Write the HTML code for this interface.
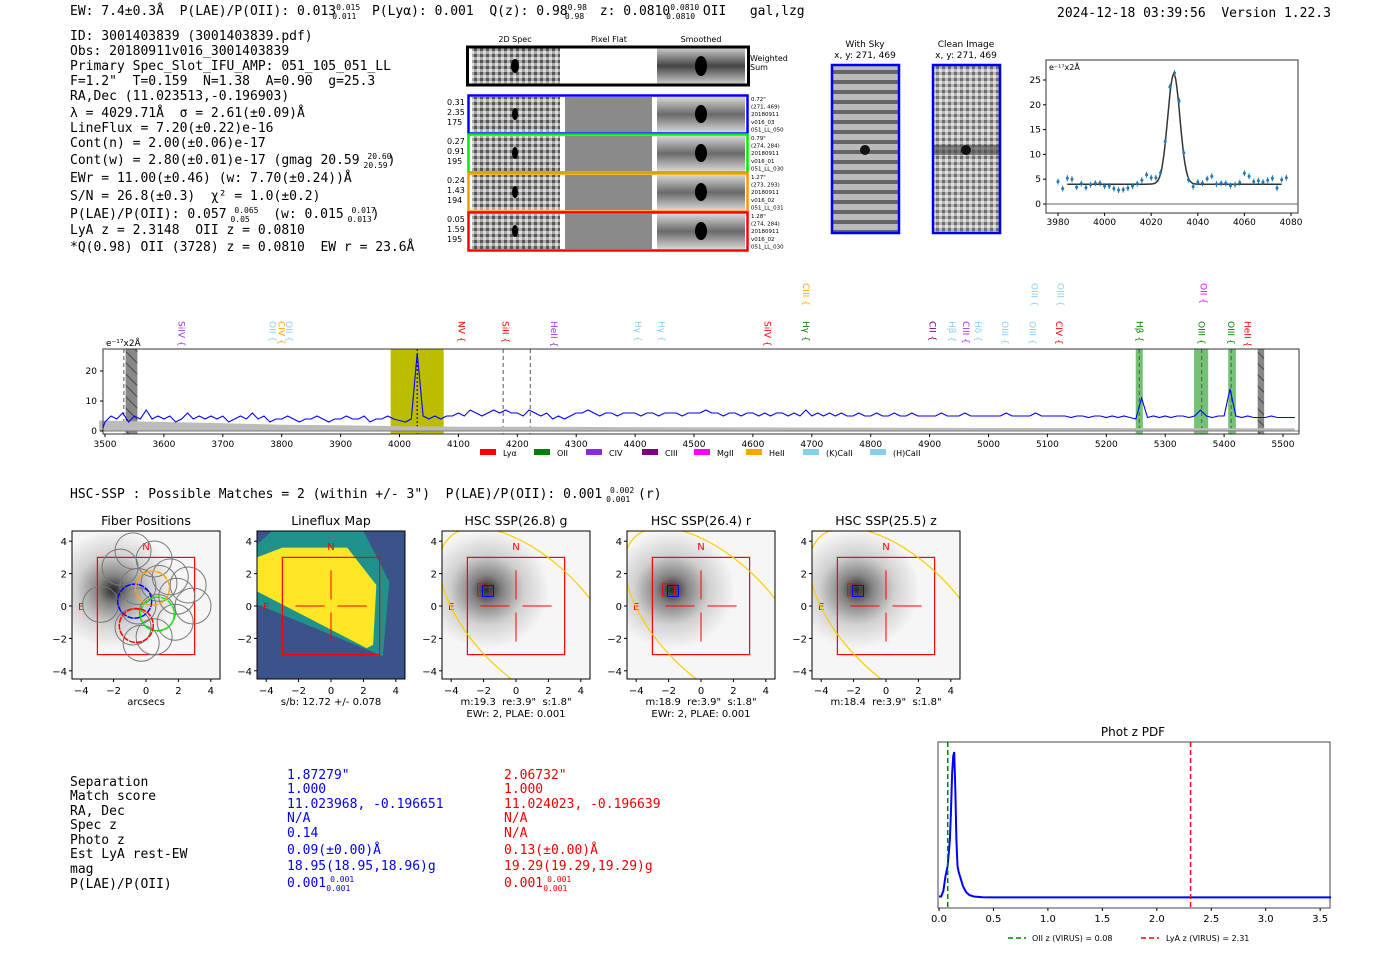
<!DOCTYPE html>
<html><head><meta charset="utf-8">
<style>
html,body{margin:0;padding:0;background:#fff;}
svg{display:block;}
text{white-space:pre;}
.m{font-family:"DejaVu Sans Mono","Liberation Mono",monospace;font-size:13px;fill:#000;}
.s{font-family:"DejaVu Sans","Liberation Sans",sans-serif;}
</style></head>
<body>
<svg id="fig" width="1400" height="953" viewBox="0 0 1400 953" xmlns="http://www.w3.org/2000/svg">
<defs>
<radialGradient id="gal" cx="0.5" cy="0.5" r="0.5"><stop offset="0" stop-color="#111"/><stop offset="0.25" stop-color="#777"/><stop offset="0.6" stop-color="#ccc"/><stop offset="1" stop-color="#f4f4f4"/></radialGradient>
<pattern id="noise" width="6" height="6" patternUnits="userSpaceOnUse"><rect width="6" height="6" fill="#aaa"/><rect width="3" height="3" fill="#555"/><rect x="3" y="3" width="3" height="3" fill="#ddd"/></pattern>
<pattern id="stripes" width="8" height="10" patternUnits="userSpaceOnUse"><rect width="8" height="10" fill="#bbb"/><rect width="8" height="4" fill="#666"/></pattern>
<linearGradient id="smooth" x1="0" x2="0" y1="0" y2="1"><stop offset="0" stop-color="#ccc"/><stop offset="0.5" stop-color="#444"/><stop offset="1" stop-color="#ccc"/></linearGradient>
<pattern id="hatch" width="8" height="8" patternUnits="userSpaceOnUse" patternTransform="rotate(-45)"><rect width="8" height="8" fill="#888"/><line x1="0" y1="0" x2="0" y2="8" stroke="#333" stroke-width="1.5"/></pattern>
</defs>

<text class="m" x="70" y="15">EW: 7.4±0.3Å  P(LAE)/P(OII): 0.013<tspan font-size="8" dy="-5">0.015</tspan><tspan font-size="8" dx="-28" dy="9">0.011</tspan><tspan dy="-4">  P(Lyα): 0.001  Q(z): 0.98</tspan><tspan font-size="8" dy="-5">0.98</tspan><tspan font-size="8" dx="-22" dy="9">0.98</tspan><tspan dy="-4">  z: 0.0810</tspan><tspan font-size="8" dy="-5">0.0810</tspan><tspan font-size="8" dx="-33" dy="9">0.0810</tspan><tspan dy="-4"> OII   gal,lzg</tspan></text>
<text class="m" x="1057" y="17">2024-12-18 03:39:56  Version 1.22.3</text>

<g>
<text class="m" x="70" y="40">ID: 3001403839 (3001403839.pdf)</text>
<text class="m" x="70" y="55">Obs: 20180911v016_3001403839</text>
<text class="m" x="70" y="70">Primary Spec_Slot_IFU_AMP: 051_105_051_LL</text>
<text class="m" x="70" y="85">F=1.2"  T=0.159  N=1.38  A=0.90  g=25.3</text>
<text class="m" x="70" y="100">RA,Dec (11.023513,-0.196903)</text>
<text class="m" x="70" y="117">λ = 4029.71Å  σ = 2.61(±0.09)Å</text>
<text class="m" x="70" y="132">LineFlux = 7.20(±0.22)e-16</text>
<text class="m" x="70" y="147">Cont(n) = 2.00(±0.06)e-17</text>
<text class="m" x="70" y="164">Cont(w) = 2.80(±0.01)e-17 (gmag 20.59 <tspan font-size="8" dy="-5">20.60</tspan><tspan font-size="8" dx="-28" dy="9">20.59</tspan><tspan dy="-4">)</tspan></text>
<text class="m" x="70" y="182">EWr = 11.00(±0.46) (w: 7.70(±0.24))Å</text>
<text class="m" x="70" y="200">S/N = 26.8(±0.3)  χ² = 1.0(±0.2)</text>
<text class="m" x="70" y="218">P(LAE)/P(OII): 0.057 <tspan font-size="8" dy="-5">0.065</tspan><tspan font-size="8" dx="-28" dy="9">0.05</tspan><tspan dy="-4">   (w: 0.015 </tspan><tspan font-size="8" dy="-5">0.017</tspan><tspan font-size="8" dx="-28" dy="9">0.013</tspan><tspan dy="-4">)</tspan></text>
<text class="m" x="70" y="234">LyA z = 2.3148  OII z = 0.0810</text>
<text class="m" x="70" y="251">*Q(0.98) OII (3728) z = 0.0810  EW r = 23.6Å</text>
</g>

<g class="s">
<text x="515" y="42" font-size="8" text-anchor="middle">2D Spec</text>
<text x="609" y="42" font-size="8" text-anchor="middle">Pixel Flat</text>
<text x="701" y="42" font-size="8" text-anchor="middle">Smoothed</text>
<g>
<rect x="472" y="48" width="88" height="36" fill="url(#noise)"/>
<rect x="657" y="48" width="88" height="36" fill="url(#smooth)"/>
<ellipse cx="515" cy="66" rx="4" ry="7" fill="#000"/><ellipse cx="701" cy="66" rx="6" ry="10" fill="#000"/>
<rect x="467.5" y="47" width="281" height="38" fill="none" stroke="#000" stroke-width="3"/>
<text x="750" y="61" font-size="8">Weighted</text><text x="750" y="70" font-size="8">Sum</text>
</g>
<g id="rows"></g>
</g>

<g class="s">
<text x="865" y="47" font-size="9" text-anchor="middle">With Sky</text>
<text x="865" y="58" font-size="9" text-anchor="middle">x, y: 271, 469</text>
<rect x="832" y="65" width="67" height="168" fill="url(#stripes)"/>
<circle cx="865" cy="150" r="5" fill="#111"/>
<rect x="832" y="65" width="67" height="168" fill="none" stroke="#0000ee" stroke-width="2.5"/>
<text x="966" y="47" font-size="9" text-anchor="middle">Clean Image</text>
<text x="966" y="58" font-size="9" text-anchor="middle">x, y: 271, 469</text>
<rect x="933" y="65" width="67" height="168" fill="url(#noise)" opacity="0.85"/>
<rect x="933" y="145" width="67" height="10" fill="#444" opacity="0.6"/>
<circle cx="966" cy="150" r="5" fill="#111"/>
<rect x="933" y="65" width="67" height="168" fill="none" stroke="#0000ee" stroke-width="2.5"/>
</g>

<g id="zoomplot" class="s"></g>
<g id="specplot" class="s"></g>

<text class="m" x="70" y="498">HSC-SSP : Possible Matches = 2 (within +/- 3")  P(LAE)/P(OII): 0.001 <tspan font-size="8" dy="-5">0.002</tspan><tspan font-size="8" dx="-28" dy="9">0.001</tspan><tspan dy="-4"> (r)</tspan></text>

<g id="cutouts" class="s"></g>

<g class="m">
<text x="70" y="786">Separation</text><text x="70" y="800">Match score</text><text x="70" y="815">RA, Dec</text><text x="70" y="829">Spec z</text><text x="70" y="844">Photo z</text><text x="70" y="858">Est LyA rest-EW</text><text x="70" y="873">mag</text><text x="70" y="888">P(LAE)/P(OII)</text>
<text x="287" y="779" style="fill:#0000ee">1.87279"</text><text x="287" y="793" style="fill:#0000ee">1.000</text><text x="287" y="808" style="fill:#0000ee">11.023968, -0.196651</text><text x="287" y="822" style="fill:#0000ee">N/A</text><text x="287" y="837" style="fill:#0000ee">0.14</text><text x="287" y="854" style="fill:#0000ee">0.09(±0.00)Å</text><text x="287" y="870" style="fill:#0000ee">18.95(18.95,18.96)g</text><text x="287" y="887" style="fill:#0000ee">0.001<tspan font-size="8" dx="4" dy="-5">0.001</tspan><tspan font-size="8" dx="-28" dy="9">0.001</tspan></text>
<text x="504" y="779" style="fill:#ee0000">2.06732"</text><text x="504" y="793" style="fill:#ee0000">1.000</text><text x="504" y="808" style="fill:#ee0000">11.024023, -0.196639</text><text x="504" y="822" style="fill:#ee0000">N/A</text><text x="504" y="837" style="fill:#ee0000">N/A</text><text x="504" y="854" style="fill:#ee0000">0.13(±0.00)Å</text><text x="504" y="870" style="fill:#ee0000">19.29(19.29,19.29)g</text><text x="504" y="887" style="fill:#ee0000">0.001<tspan font-size="8" dx="4" dy="-5">0.001</tspan><tspan font-size="8" dx="-28" dy="9">0.001</tspan></text>
</g>

<g id="pdfplot" class="s"></g>
</svg>

<script>
const zoomWave = [3980,3982,3984,3986,3988,3990,3992,3994,3996,3998,4000,4002,4004,4006,4008,4010,4012,4014,4016,4018,4020,4022,4024,4026,4028,4030,4032,4034,4036,4038,4040,4042,4044,4046,4048,4050,4052,4054,4056,4058,4060,4062,4064,4066,4068,4070,4072,4074,4076,4078];
const zoomFlux = [4.5,3.1,5.2,5.0,3.4,4.1,3.3,3.9,4.2,4.2,3.6,3.6,3.1,2.8,2.9,3.2,3.6,4.1,4.8,5.9,5.3,5.3,6.3,12.6,23.6,26.4,20.8,10.3,4.9,3.5,4.4,4.2,5.1,5.6,4.0,4.2,4.2,3.7,3.9,4.3,6.2,5.6,4.5,4.7,4.4,4.8,5.2,3.2,4.9,5.3];
const fitCenter = 4029.7, fitSigma = 2.61, fitAmp = 22.2, fitCont = 4.0;
const zoomYTicks = [0,5,10,15,20,25];
const zoomXTicks = [3980,4000,4020,4040,4060,4080];

const specStart = 3490, specStep = 10;
const specFlux = [1,3,5,4,6,3,5,4,7,4,5,
4,5,3,4,6,4,5,4,5,4, 5,3,4,5,4,6,4,5,3,4, 4,5,4,3,4,4,5,4,3,4, 4,5,4,4,5,3,4,4,5,4,
3.5,3,4,26,5,4,5,4,5,5, 6,5,7,6,5,6,7,6,7,6, 6,5,7,6,5,6,4,5,4,5, 6,6,7,6,5,6,6,5,6,6,
6,5,6,6,5,6,6,6,5,6, 6,6,7,6,6,5,6,6,5,6, 6,5,6,5,6,6,5,6,5,7, 5,6,5,6,5,6,5,5,6,5,
5,6,5,5,6,5,5,6,5,5, 5,5,6,5,5,5,6,5,5,5, 5,5,5,6,5,5,5,5,6,5, 5,5,5,5,4.5,5,5,4.5,5,5,
4.5,5,4.5,5,4.5,4,11,4.5,5,4.5, 5,4.5,5,5,4.5,5,7,5,4.5,5, 5,14,5,4.5,5,4.5,4.5,4.5,5,4.5,
4.5,4.5,4.5];
const skyWave = [3490,3600,3700,3800,3900,4000,4100,4200,4400,4600,4800,5000,5200,5400,5520];
const skyFlux = [3.5,3.0,2.6,2.1,1.9,1.6,1.4,1.4,1.3,1.2,1.1,1.0,1.0,0.9,0.9];
const specXTicks = [3500,3600,3700,3800,3900,4000,4100,4200,4300,4400,4500,4600,4700,4800,4900,5000,5100,5200,5300,5400,5500];
const specYTicks = [0,10,20];
const lineNames = ["SiIV","OII","CIV","OII","NV","SiII","HeII","Hγ","Hγ","SiIV","Hγ","CIII","CII","Hβ","CIII","Hδ","OIII","OIII","CIV","OIII","OIII","Hβ","OIII","OIII","OII","HeII"];
const lineWaves = [3630,3784,3800,3812,4105,4180,4262,4405,4445,4625,4690,4690,4905,4938,4962,4982,5028,5075,5120,5078,5122,5256,5362,5412,5365,5440];
const lineRow = [1,1,1,1,1,1,1,1,1,1,1,0,1,1,1,1,1,1,1,0,0,1,1,1,0,1];
const lineColors = ["#9933ee","#87cefa","#ffa500","#87cefa","#ff0000","#ff0000","#9933ee","#87cefa","#87cefa","#ff0000","#008000","#ffa500","#800080","#87cefa","#9933ee","#87cefa","#87cefa","#87cefa","#ff0000","#87cefa","#87cefa","#008000","#008000","#008000","#ff00ff","#ff0000"];
const legendNames = ["Lyα","OII","CIV","CIII","MgII","HeII","(K)CaII","(H)CaII"];
const legendColors = ["#ff0000","#008000","#8a2be2","#800080","#ff00ff","#ffa500","#87ceeb","#87ceeb"];

const pdfZ = [0,0.02,0.04,0.06,0.08,0.1,0.11,0.12,0.13,0.14,0.15,0.16,0.17,0.18,0.2,0.22,0.25,0.28,0.32,0.4,0.5,1,2,3,3.6];
const pdfP = [0.01,0.01,0.05,0.15,0.22,0.4,0.6,0.85,0.97,1.0,0.75,0.4,0.22,0.18,0.13,0.08,0.04,0.02,0.01,0.005,0.004,0.004,0.004,0.004,0.004];
const pdfXTicks = [0.0,0.5,1.0,1.5,2.0,2.5,3.0,3.5];
const oiiZ = 0.08, lyaZ = 2.31;

const rowNums = [["0.31","2.35","175"],["0.27","0.91","195"],["0.24","1.43","194"],["0.05","1.59","195"]];
const rowInfo = [["0.72\"","(271, 469)","20180911","v016_03","051_LL_050"],["0.79\"","(274, 284)","20180911","v016_01","051_LL_030"],["1.27\"","(273, 293)","20180911","v016_02","051_LL_031"],["1.28\"","(274, 284)","20180911","v016_02","051_LL_030"]];
const rowColors = ["#0000ff","#00ee00","#ff9900","#ff0000"];

const cutTitles = ["Fiber Positions","Lineflux Map","HSC SSP(26.8) g","HSC SSP(26.4) r","HSC SSP(25.5) z"];
const cutLabels = [["arcsecs"],["s/b: 12.72 +/- 0.078"],["m:19.3  re:3.9\"  s:1.8\"","EWr: 2, PLAE: 0.001"],["m:18.9  re:3.9\"  s:1.8\"","EWr: 2, PLAE: 0.001"],["m:18.4  re:3.9\"  s:1.8\""]];
const cutTicks = [-4,-2,0,2,4];

const NS = "http://www.w3.org/2000/svg";
function mk(parent, tag, attrs, txt){
  const e = document.createElementNS(NS, tag);
  for (const k in attrs) e.setAttribute(k, attrs[k]);
  if (txt !== undefined) e.textContent = txt;
  parent.appendChild(e); return e;
}

(function(){
  const g = document.getElementById('rows');
  const tops = [95,134,173,212];
  for (let i=0;i<4;i++){
    const y = tops[i];
    const r = mk(g,'g',{});
    
    
    mk(r,'rect',{x:472,y:y+2,width:88,height:35,fill:'url(#noise)'});
    mk(r,'rect',{x:565,y:y+2,width:87,height:35,fill:'#8a8a8a'});
    mk(r,'rect',{x:657,y:y+2,width:88,height:35,fill:'url(#smooth)',opacity:0.8});
    mk(r,'ellipse',{cx:515,cy:y+19,rx:3,ry:6,fill:'#000'});
    mk(r,'ellipse',{cx:701,cy:y+19,rx:6,ry:9,fill:'#000'});
    mk(r,'rect',{x:468.5,y:y+0.5,width:279,height:38,fill:'none',stroke:rowColors[i],'stroke-width':2.5});
    rowNums[i].forEach((t,j)=>mk(r,'text',{x:447,y:y+10+j*10,'font-size':8},t));
    rowInfo[i].forEach((t,j)=>mk(r,'text',{x:751,y:y+6+j*7.6,'font-size':5.5},t));
  }
})();

(function(){
  const g = document.getElementById('zoomplot');
  const L=1046,R=1298,T=60,B=213;
  const xs = w => 1058 + (w-3980)*2.33;
  const ys = v => 204 - v*4.96;
  mk(g,'rect',{x:L,y:T,width:R-L,height:B-T,fill:'#fff',stroke:'#333'});
  zoomYTicks.forEach(t=>{mk(g,'line',{x1:L-3,x2:L,y1:ys(t),y2:ys(t),stroke:'#000'});mk(g,'text',{x:L-5,y:ys(t)+3,'font-size':9,'text-anchor':'end'},t);});
  zoomXTicks.forEach(t=>{mk(g,'line',{x1:xs(t),x2:xs(t),y1:B,y2:B+3,stroke:'#000'});mk(g,'text',{x:xs(t),y:B+12,'font-size':9,'text-anchor':'middle'},t);});
  mk(g,'line',{x1:L,x2:R,y1:ys(0),y2:ys(0),stroke:'#666'});
  mk(g,'text',{x:L+3,y:T+10,'font-size':8},'e⁻¹⁷x2Å');
  let d='';
  for (let w=3984; w<=4076; w+=0.5){ const v=fitCont+fitAmp*Math.exp(-0.5*Math.pow((w-fitCenter)/fitSigma,2)); d+=(d?'L':'M')+xs(w).toFixed(1)+','+ys(v).toFixed(1); }
  const fit = mk(g,'path',{d:d,fill:'none',stroke:'#333','stroke-width':1.5});
  
  
  zoomWave.forEach((w,i)=>{
    const p = mk(g,'g',{});
    
    
    mk(p,'line',{x1:xs(w),x2:xs(w),y1:ys(zoomFlux[i])-3,y2:ys(zoomFlux[i])+3,stroke:'#1f77b4'});
    mk(p,'circle',{cx:xs(w),cy:ys(zoomFlux[i]),r:1.5,fill:'#1f77b4'});
  });
})();

(function(){
  const g = document.getElementById('specplot');
  const L=103,R=1299,T=349,B=434;
  const xs = w => 105 + (w-3500)*0.589;
  const ys = v => 431 - v*3.0;
  mk(g,'rect',{x:L,y:T,width:R-L,height:B-T,fill:'#fff'});
  [[3985,4075,'#bdbd00'],[5250,5262,'#5cb85c'],[5349,5373,'#5cb85c'],[5407,5420,'#5cb85c']].forEach(b=>{
    const r = mk(g,'rect',{x:xs(b[0]),y:T,width:xs(b[1])-xs(b[0]),height:B-T,fill:b[2],opacity:b[2]=='#bdbd00'?1:0.85});
    
    
  });
  [[3535,3555],[5457,5468]].forEach(b=>{
    const r = mk(g,'rect',{x:xs(b[0]),y:T,width:xs(b[1])-xs(b[0]),height:B-T,fill:'url(#hatch)'});
    
    
  });
  [3532,4176,4222,5256,5362,5412].forEach(w=>mk(g,'line',{x1:xs(w),x2:xs(w),y1:T,y2:B,stroke:'#555','stroke-dasharray':'4,3'}));
  mk(g,'line',{x1:xs(4030),x2:xs(4030),y1:T,y2:B,stroke:'#000','stroke-dasharray':'2,2'});
  let sd='M'+xs(skyWave[0])+','+ys(0);
  skyWave.forEach((w,i)=>sd+='L'+xs(w).toFixed(1)+','+ys(skyFlux[i]).toFixed(1));
  sd+='L'+xs(skyWave[skyWave.length-1])+','+ys(0)+'Z';
  const sky = mk(g,'path',{d:sd,fill:'#bbb'});
  
  
  mk(g,'line',{x1:L,x2:R,y1:ys(0),y2:ys(0),stroke:'#777'});
  let d='';
  specFlux.forEach((v,i)=>{ const w=specStart+i*specStep; const x=Math.max(L,Math.min(R,xs(w))); d+=(d?'L':'M')+x.toFixed(1)+','+ys(v).toFixed(1); });
  const ln = mk(g,'path',{d:d,fill:'none',stroke:'#0000ff','stroke-width':1.1});
  
  
  mk(g,'rect',{x:L,y:T,width:R-L,height:B-T,fill:'none',stroke:'#333'});
  specYTicks.forEach(t=>{mk(g,'line',{x1:L-3,x2:L,y1:ys(t),y2:ys(t),stroke:'#000'});mk(g,'text',{x:L-6,y:ys(t)+3,'font-size':9,'text-anchor':'end'},t);});
  specXTicks.forEach(t=>{mk(g,'line',{x1:xs(t),x2:xs(t),y1:B,y2:B+3,stroke:'#000'});mk(g,'text',{x:xs(t),y:B+13,'font-size':9,'text-anchor':'middle'},t);});
  mk(g,'text',{x:106,y:346,'font-size':9},'e⁻¹⁷x2Å');
  lineNames.forEach((n,i)=>{
    const x=xs(lineWaves[i]); const y= lineRow[i]?321:283;
    const t = mk(g,'text',{x:0,y:0,'font-size':9,fill:lineColors[i],transform:`translate(${x-3},${y}) rotate(90)`},n+' {');
    
    
  });
  const lx=[480,534,586,642,694,746,803,870];
  legendNames.forEach((n,i)=>{
    const e = mk(g,'g',{});
    
    
    mk(e,'rect',{x:lx[i],y:449,width:16,height:6,fill:legendColors[i]});
    mk(e,'text',{x:lx[i]+23,y:456,'font-size':8},n);
  });
})();

(function(){
  const g = document.getElementById('cutouts');
  const lefts=[72,257,442,627,812];
  const T=531, S=148;
  lefts.forEach((L,k)=>{
    const p = mk(g,'g',{});
    
    
    const cp = mk(p,'clipPath',{id:'clip'+k});
    mk(cp,'rect',{x:L,y:T,width:S,height:S});
    const inner = mk(p,'g',{'clip-path':'url(#clip'+k+')'});
    const cx=L+S/2, cy=T+S/2+1, sc=16.2;
    const X=v=>cx+v*sc, Y=v=>cy-v*sc;
    mk(p,'text',{x:cx,y:T-6,'font-size':12.5,'text-anchor':'middle'},cutTitles[k]);
    if (k===1){
      mk(inner,'rect',{x:L,y:T,width:S,height:S,fill:'#3b528b'});
      mk(inner,'polygon',{points:`${L},${Y(3.8)} ${L+15},${T} ${X(2)},${T} ${X(3.6)},${Y(1.5)} ${X(3.2)},${Y(-3.1)} ${L},${Y(0.1)}`,fill:'#21918c'});
      mk(inner,'polygon',{points:`${L},${Y(3)} ${X(-3)},${Y(3.6)} ${X(1)},${Y(3.6)} ${X(2.8)},${Y(1.3)} ${X(2.6)},${Y(-2.4)} ${X(2.2)},${Y(-2.6)} ${L},${Y(0.9)}`,fill:'#fde725'});
      mk(inner,'polygon',{points:`${L},${Y(0.1)} ${X(3.2)},${Y(-3.1)} ${L+S},${T+S} ${L},${T+S}`,fill:'#3b528b'});
    } else {
      mk(inner,'rect',{x:L,y:T,width:S,height:S,fill:'#f6f6f6'});
      const gx = k===0?-2:-1.8, gy = 1;
      mk(inner,'ellipse',{cx:X(gx),cy:Y(gy),rx:62,ry:58,fill:'url(#gal)',opacity:0.9});
    }
    mk(inner,'rect',{x:X(-3),y:Y(3),width:6*sc,height:6*sc,fill:'none',stroke:'#ff0000','stroke-width':1.2});
    mk(inner,'text',{x:X(0),y:Y(3.7)+4,'font-size':10,fill:'#ff0000','text-anchor':'middle'},'N');
    mk(inner,'text',{x:X(-4),y:Y(0)+4,'font-size':10,fill:'#ff0000','text-anchor':'middle'},'E');
    if (k===0){
      const fib=[[-1.6,2.4],[-0.8,3.4],[0.5,2.9],[-0.5,1.2],[1.5,1.8],[2.6,1.3],[0.8,1.4],[1.9,0.6],[2.9,0],[-2.8,0.1],[-0.5,0],[0.7,-0.4],[1.8,-1],[-0.8,-1.3],[0.5,-1.9],[-0.3,-2.3]];
      fib.forEach(f=>mk(inner,'circle',{cx:X(f[0]),cy:Y(f[1]),r:18,fill:'none',stroke:'#777'}));
      [[-0.7,0.3,'#0000ff'],[0.7,-0.5,'#00ee00'],[0.4,1.1,'#ffa500'],[-0.6,-1.2,'#ff0000']].forEach(f=>mk(inner,'circle',{cx:X(f[0]),cy:Y(f[1]),r:17,fill:'none',stroke:f[2],'stroke-width':1.5,'stroke-dasharray':'6,1'}));
    }
    if (k>=1){
      mk(inner,'line',{x1:X(-2.2),x2:X(-0.4),y1:Y(0),y2:Y(0),stroke:'#ff0000'});
      mk(inner,'line',{x1:X(0.4),x2:X(2.2),y1:Y(0),y2:Y(0),stroke:'#ff0000'});
      mk(inner,'line',{x1:X(0),x2:X(0),y1:Y(2.2),y2:Y(0.4),stroke:'#ff0000'});
      mk(inner,'line',{x1:X(0),x2:X(0),y1:Y(-0.4),y2:Y(-2.2),stroke:'#ff0000'});
    }
    if (k>=2){
      mk(inner,'ellipse',{cx:X(0.9),cy:Y(-0.8),rx:115,ry:58,fill:'none',stroke:'#ffcc00','stroke-width':1.2,transform:`rotate(45 ${X(0.9)} ${Y(-0.8)})`});
      mk(inner,'rect',{x:X(-2)-6,y:Y(1)-6,width:12,height:12,fill:'none',stroke:'#ff0000'});
      mk(inner,'rect',{x:X(-1.7)-6,y:Y(0.9)-6,width:11,height:11,fill:'none',stroke:'#0000ff'});
    }
    mk(p,'rect',{x:L,y:T,width:S,height:S,fill:'none',stroke:'#000'});
    cutTicks.forEach(t=>{
      mk(p,'line',{x1:L-3,x2:L,y1:Y(t),y2:Y(t),stroke:'#000'});
      mk(p,'text',{x:L-5,y:Y(t)+4,'font-size':10,'text-anchor':'end'},t<0?'−'+(-t):t);
      mk(p,'line',{x1:X(t),x2:X(t),y1:T+S,y2:T+S+3,stroke:'#000'});
      mk(p,'text',{x:X(t),y:T+S+15,'font-size':10,'text-anchor':'middle'},t<0?'−'+(-t):t);
    });
    cutLabels[k].forEach((l,j)=>mk(p,'text',{x:cx,y:T+S+26+j*12,'font-size':10,'text-anchor':'middle'},l));
  });
})();

(function(){
  const g = document.getElementById('pdfplot');
  const L=938,R=1330,T=742,B=908;
  const xs=z=>939+z*108.9, ys=p=>898-p*146;
  mk(g,'text',{x:(L+R)/2-1,y:T-6,'font-size':12,'text-anchor':'middle'},'Phot z PDF');
  mk(g,'rect',{x:L,y:T,width:R-L,height:B-T,fill:'#fff',stroke:'#444'});
  let d='';
  pdfZ.forEach((z,i)=>d+=(d?'L':'M')+xs(z).toFixed(1)+','+ys(pdfP[i]).toFixed(1));
  const c = mk(g,'path',{d:d,fill:'none',stroke:'#0000ff','stroke-width':2});
  
  
  const o = mk(g,'line',{x1:xs(oiiZ),x2:xs(oiiZ),y1:T,y2:B,stroke:'#008000','stroke-width':1.5,'stroke-dasharray':'5,3'});
  
  
  const l = mk(g,'line',{x1:xs(lyaZ),x2:xs(lyaZ),y1:T,y2:B,stroke:'#ff0000','stroke-width':1.5,'stroke-dasharray':'5,3'});
  
  
  pdfXTicks.forEach(t=>{mk(g,'line',{x1:xs(t),x2:xs(t),y1:B,y2:B+3,stroke:'#000'});mk(g,'text',{x:xs(t),y:B+14,'font-size':10,'text-anchor':'middle'},t.toFixed(1));});
  mk(g,'line',{x1:1008,x2:1026,y1:938,y2:938,stroke:'#008000','stroke-width':1.5,'stroke-dasharray':'5,3'});
  mk(g,'text',{x:1032,y:941,'font-size':8},'OII z (VIRUS) = 0.08');
  mk(g,'line',{x1:1141,x2:1159,y1:938,y2:938,stroke:'#ff0000','stroke-width':1.5,'stroke-dasharray':'5,3'});
  mk(g,'text',{x:1166,y:941,'font-size':8},'LyA z (VIRUS) = 2.31');
})();
</script>
</body></html>
